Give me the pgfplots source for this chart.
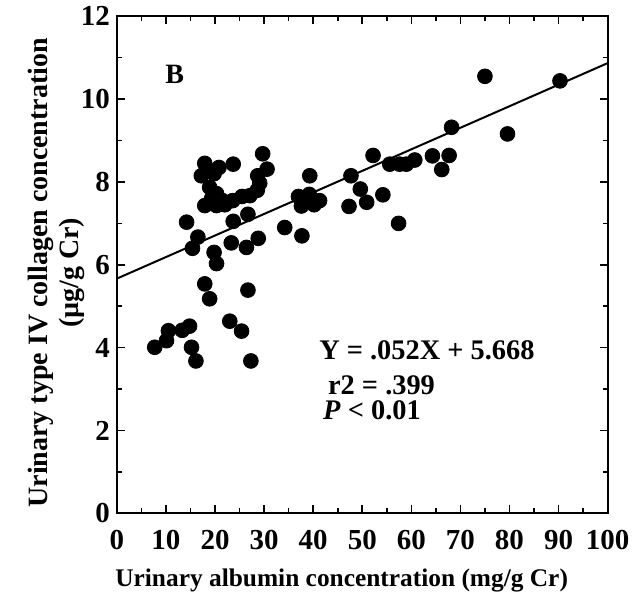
\documentclass[border=0pt]{standalone}
\usepackage{pgfplots}
\pgfplotsset{compat=1.18}
\usepackage{fontspec}
\setmainfont{Liberation Serif}
\usetikzlibrary{calc}
\begin{document}
\begin{tikzpicture}
\begin{axis}[
  name=ax,
  scale only axis,
  width=245.5pt, height=248.75pt,
  xmin=0, xmax=100, ymin=0, ymax=12,
  xtick={0,10,...,100}, ytick={0,2,...,12},
  minor x tick num=1, minor y tick num=1,
  tick align=inside,
  major tick length=4pt, minor tick length=2.5pt,
  axis line style={line width=1pt},
  every tick/.style={black, line width=0.8pt},
  /pgf/number format/assume math mode=true,
  tick label style={font=\fontsize{14.5}{14.5}\selectfont\bfseries},
  xticklabel style={yshift=-5pt},
  xlabel={Urinary albumin concentration (mg/g Cr)},
  ylabel={Urinary type IV collagen concentration\\(µg/g Cr)},
  xlabel style={font=\fontsize{12.7}{15}\selectfont\bfseries, at={(axis description cs:0.458,-0.135)}, anchor=center},
  ylabel style={font=\fontsize{14}{15.5}\selectfont\bfseries, align=center, at={(axis description cs:-0.124,0.484)}, anchor=center},
  clip=false,
]
\addplot[only marks, mark=*, mark size=3.7pt, black] coordinates {
(7.7,4.01) (10.5,4.41) (10.1,4.17) (13.3,4.42) (14.8,4.52) (15.2,4.01) (16.1,3.68)
(23.0,4.64) (25.4,4.40) (27.3,3.68)
(17.9,5.54) (18.9,5.18) (26.7,5.39)
(16.5,6.67) (15.4,6.40) (19.8,6.30) (20.3,6.03) (23.3,6.53) (26.4,6.42) (28.8,6.64)
(14.2,7.03) (23.7,7.05) (26.7,7.22)
(17.9,8.45) (17.2,8.15) (18.9,7.87) (20.3,7.72) (17.9,7.43) (20.3,7.43) (23.7,8.43)
(23.6,7.55) (25.5,7.65) (27.1,7.67) (28.6,7.80) (29.7,8.68) (30.6,8.31) (28.7,8.15)
(29.1,7.97) (19.8,8.20) (21.5,7.55) (20.8,8.35) (22.0,7.45) (19.3,7.60)
(34.2,6.90) (37.7,6.70) (39.3,8.15)
(37.0,7.65) (37.6,7.42) (39.0,7.55) (40.2,7.45) (41.3,7.55) (39.2,7.70)
(47.3,7.41) (47.7,8.15) (49.6,7.83) (50.9,7.51) (52.2,8.64) (54.2,7.69) (57.4,7.00)
(55.6,8.43) (57.6,8.43) (59.0,8.43) (60.7,8.53) (64.3,8.63) (67.7,8.64) (66.2,8.30)
(68.2,9.32) (75.0,10.55) (79.6,9.16) (90.3,10.44)
};
\addplot[black, line width=1pt] coordinates {(0,5.668) (100,10.868)};
\node[font=\fontsize{14}{15}\selectfont\bfseries] at (axis cs:11.8,10.6) {B};
\node[font=\fontsize{14.2}{15}\selectfont\bfseries, anchor=west] at (axis cs:39.8,3.93) {Y = .052X + 5.668};
\node[font=\fontsize{14.2}{15}\selectfont\bfseries, anchor=west] at (axis cs:41.6,3.09) {r2 = .399};
\node[font=\fontsize{14.2}{15}\selectfont\bfseries, anchor=west] at (axis cs:40.6,2.48) {\textit{P} < 0.01};
\end{axis}
\path[use as bounding box] ($(ax.south west)+(-58.5pt,-42.5pt)$) rectangle ($(ax.north east)+(14pt,7.75pt)$);
\end{tikzpicture}
\end{document}
